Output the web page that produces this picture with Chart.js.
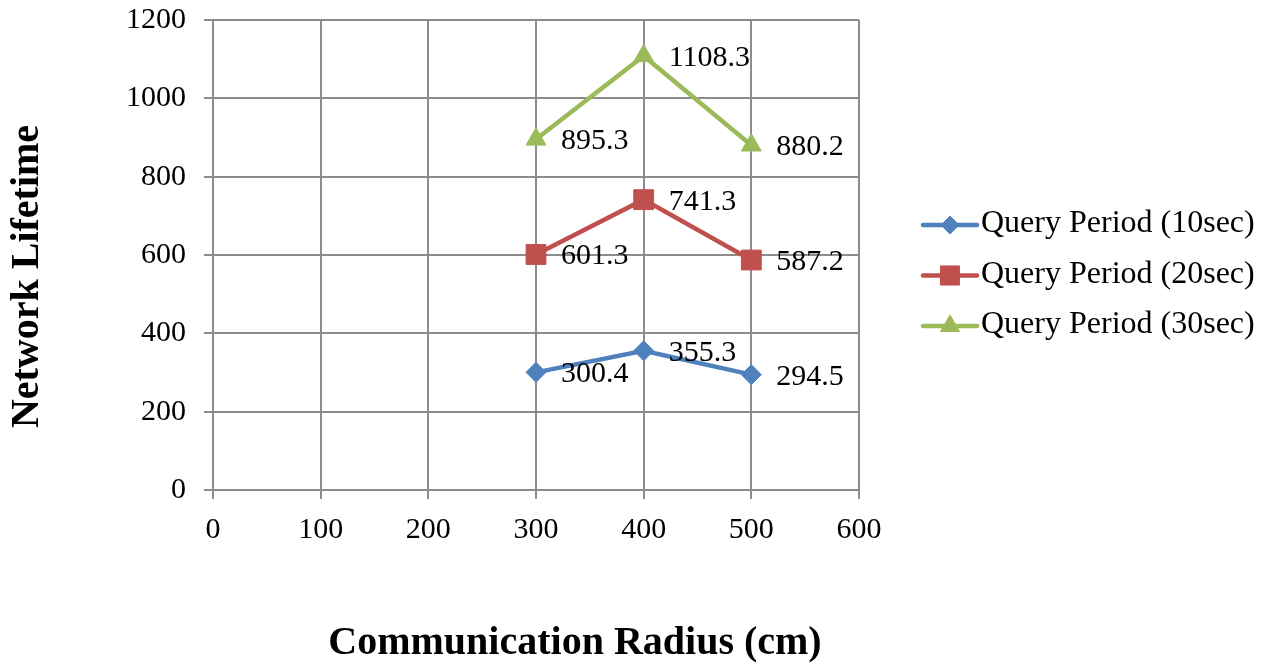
<!DOCTYPE html>
<html><head><meta charset="utf-8">
<script src="https://cdn.jsdelivr.net/npm/chart.js@4/dist/chart.umd.min.js"></script>
<style>html,body{margin:0;padding:0;background:#fff;overflow:hidden}</style>
</head><body>
<canvas id="c" width="1271" height="670"></canvas>
<script>
const radius = [300, 400, 500];
const seriesNames = ['Query Period (10sec)', 'Query Period (20sec)', 'Query Period (30sec)'];
const q10 = [300.4, 355.3, 294.5];
const q20 = [601.3, 741.3, 587.2];
const q30 = [895.3, 1108.3, 880.2];
const xTicks = [0, 100, 200, 300, 400, 500, 600];
const yTicks = [0, 200, 400, 600, 800, 1000, 1200];
const xTitle = 'Communication Radius (cm)';
const yTitle = 'Network Lifetime';

const colors = ['#4F81BD', '#C0504D', '#9BBB59'];
const styles = ['rectRot', 'rect', 'triangle'];
const radii = [10, 14, 11.5];
const legendRadii = [9, 13.5, 11];
const FONT = '"Liberation Serif", "Times New Roman", serif';
const GRID = '#8c8c8c';

const seriesValues = [q10, q20, q30];
const datasets = seriesValues.map((vals, i) => ({
  label: seriesNames[i],
  data: vals.map((v, j) => ({x: radius[j], y: v})),
  borderColor: colors[i],
  backgroundColor: colors[i],
  borderWidth: 4.5,
  pointStyle: styles[i],
  pointRadius: radii[i],
  pointHoverRadius: radii[i],
  pointBorderWidth: 1,
  pointBackgroundColor: colors[i],
  pointBorderColor: colors[i],
  tension: 0,
  clip: false
}));

function drawMarker(ctx, style, r, x, y, color) {
  if (Chart.helpers && Chart.helpers.drawPoint) {
    ctx.save();
    ctx.fillStyle = color; ctx.strokeStyle = color; ctx.lineWidth = 1;
    Chart.helpers.drawPoint(ctx, {pointStyle: style, radius: r, rotation: 0, borderWidth: 1}, x, y);
    ctx.restore();
  }
}

const extras = {
  id: 'extras',
  afterDatasetsDraw(chart) {
    const ctx = chart.ctx;
    ctx.save();
    ctx.font = '30px ' + FONT;
    ctx.fillStyle = '#000';
    ctx.textAlign = 'left';
    ctx.textBaseline = 'middle';
    chart.data.datasets.forEach((ds, i) => {
      const meta = chart.getDatasetMeta(i);
      meta.data.forEach((el, j) => {
        ctx.fillText(String(seriesValues[i][j]), el.x + 25, el.y + 2);
      });
    });
    const rows = [225, 275.5, 326];
    seriesNames.forEach((name, i) => {
      const y = rows[i];
      ctx.save();
      ctx.strokeStyle = colors[i];
      ctx.lineWidth = 4.5;
      ctx.lineCap = 'round';
      ctx.beginPath(); ctx.moveTo(923, y); ctx.lineTo(977, y); ctx.stroke();
      ctx.restore();
      drawMarker(ctx, styles[i], legendRadii[i], 950, y, colors[i]);
      ctx.font = '32px ' + FONT;
      ctx.fillStyle = '#000';
      ctx.textAlign = 'left';
      ctx.textBaseline = 'middle';
      ctx.fillText(name, 981, y - 1);
    });
    ctx.font = 'bold 40px ' + FONT;
    ctx.fillStyle = '#000';
    ctx.textAlign = 'center';
    ctx.textBaseline = 'middle';
    ctx.fillText(xTitle, 575, 644);
    ctx.save();
    ctx.translate(28, 276.5);
    ctx.rotate(-Math.PI / 2);
    ctx.fillText(yTitle, 0, 0);
    ctx.restore();
    ctx.restore();
  }
};

new Chart(document.getElementById('c'), {
  type: 'line',
  data: {datasets},
  options: {
    responsive: false,
    devicePixelRatio: 1,
    animation: false,
    layout: {padding: {left: 0, right: 412, top: 20, bottom: 0}},
    plugins: {legend: {display: false}, tooltip: {enabled: false}},
    scales: {
      x: {
        type: 'linear', min: 0, max: 600,
        afterBuildTicks: s => { s.ticks = xTicks.map(v => ({value: v})); },
        afterFit: s => { s.height = 180; s.paddingLeft = 0; s.paddingRight = 0; s.paddingTop = 0; s.paddingBottom = 0; },
        ticks: {font: {family: FONT, size: 30, lineHeight: 1.2}, color: '#000', padding: 13, maxRotation: 0, autoSkip: false,
                callback: v => String(v)},
        grid: {color: GRID, lineWidth: 2, tickLength: 9, tickColor: GRID},
        border: {color: GRID, width: 2}
      },
      y: {
        type: 'linear', min: 0, max: 1200,
        afterBuildTicks: s => { s.ticks = yTicks.map(v => ({value: v})); },
        afterFit: s => { s.width = 213; s.paddingTop = 0; s.paddingBottom = 0; s.paddingLeft = 0; s.paddingRight = 0; },
        ticks: {font: {family: FONT, size: 30, lineHeight: 1.2}, color: '#000', padding: 18, autoSkip: false,
                callback: v => String(v)},
        grid: {color: GRID, lineWidth: 2, tickLength: 9, tickColor: GRID},
        border: {color: GRID, width: 2}
      }
    }
  },
  plugins: [extras]
});
</script>
</body></html>
